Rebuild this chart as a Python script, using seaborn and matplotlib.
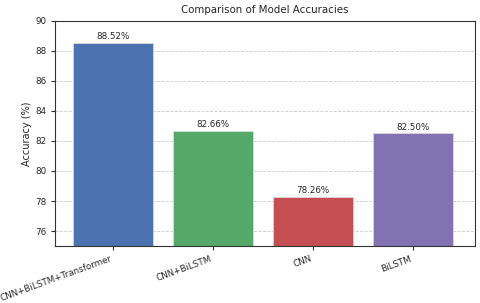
import matplotlib
matplotlib.use("Agg")
import matplotlib.pyplot as plt
import seaborn as sns
import pandas as pd

models = ["CNN+BiLSTM+Transformer", "CNN+BiLSTM", "CNN", "BiLSTM"]
accuracies = [88.52, 82.66, 78.26, 82.50]
yticks = [76, 78, 80, 82, 84, 86, 88, 90]
colors = ["#4C72B0", "#55A868", "#C44E52", "#8172B2"]

sns.set_style("white")
plt.rcParams['font.family'] = ['DejaVu Sans']

df = pd.DataFrame({"Model": models, "Accuracy": accuracies})
fig = plt.figure(figsize=(4.8, 3.03), dpi=100)
ax = fig.add_axes([0.115, 0.188, 0.875, 0.743])
sns.barplot(data=df, x="Model", y="Accuracy", hue="Model", palette=colors,
            saturation=1, legend=False, ax=ax, width=0.8,
            edgecolor="#e0e0e0", linewidth=0.5)
ax.set_xlim(-0.58, 3.62)
ax.set_ylim(75, 90)
ax.set_yticks(yticks)
ax.yaxis.grid(True, linestyle="--", color="#cccccc", linewidth=0.6)
ax.set_axisbelow(True)
for s in ax.spines.values():
    s.set_visible(True)
    s.set_color("#333333")
    s.set_linewidth(0.8)
ax.tick_params(axis="both", labelsize=6.3, length=3, width=0.8, color="#333333", bottom=True, left=True)
ax.tick_params(axis="x", pad=3)
ax.set_title("Comparison of Model Accuracies", fontsize=7.4)
ax.set_ylabel("Accuracy (%)", fontsize=7, labelpad=2)
ax.set_xlabel("")
plt.setp(ax.get_xticklabels(), rotation=20, ha="right")
for i, v in enumerate(accuracies):
    ax.text(i, v + 0.12, f"{v:.2f}%", ha="center", va="bottom", fontsize=6.3)
fig.savefig("out.png", dpi=100)
